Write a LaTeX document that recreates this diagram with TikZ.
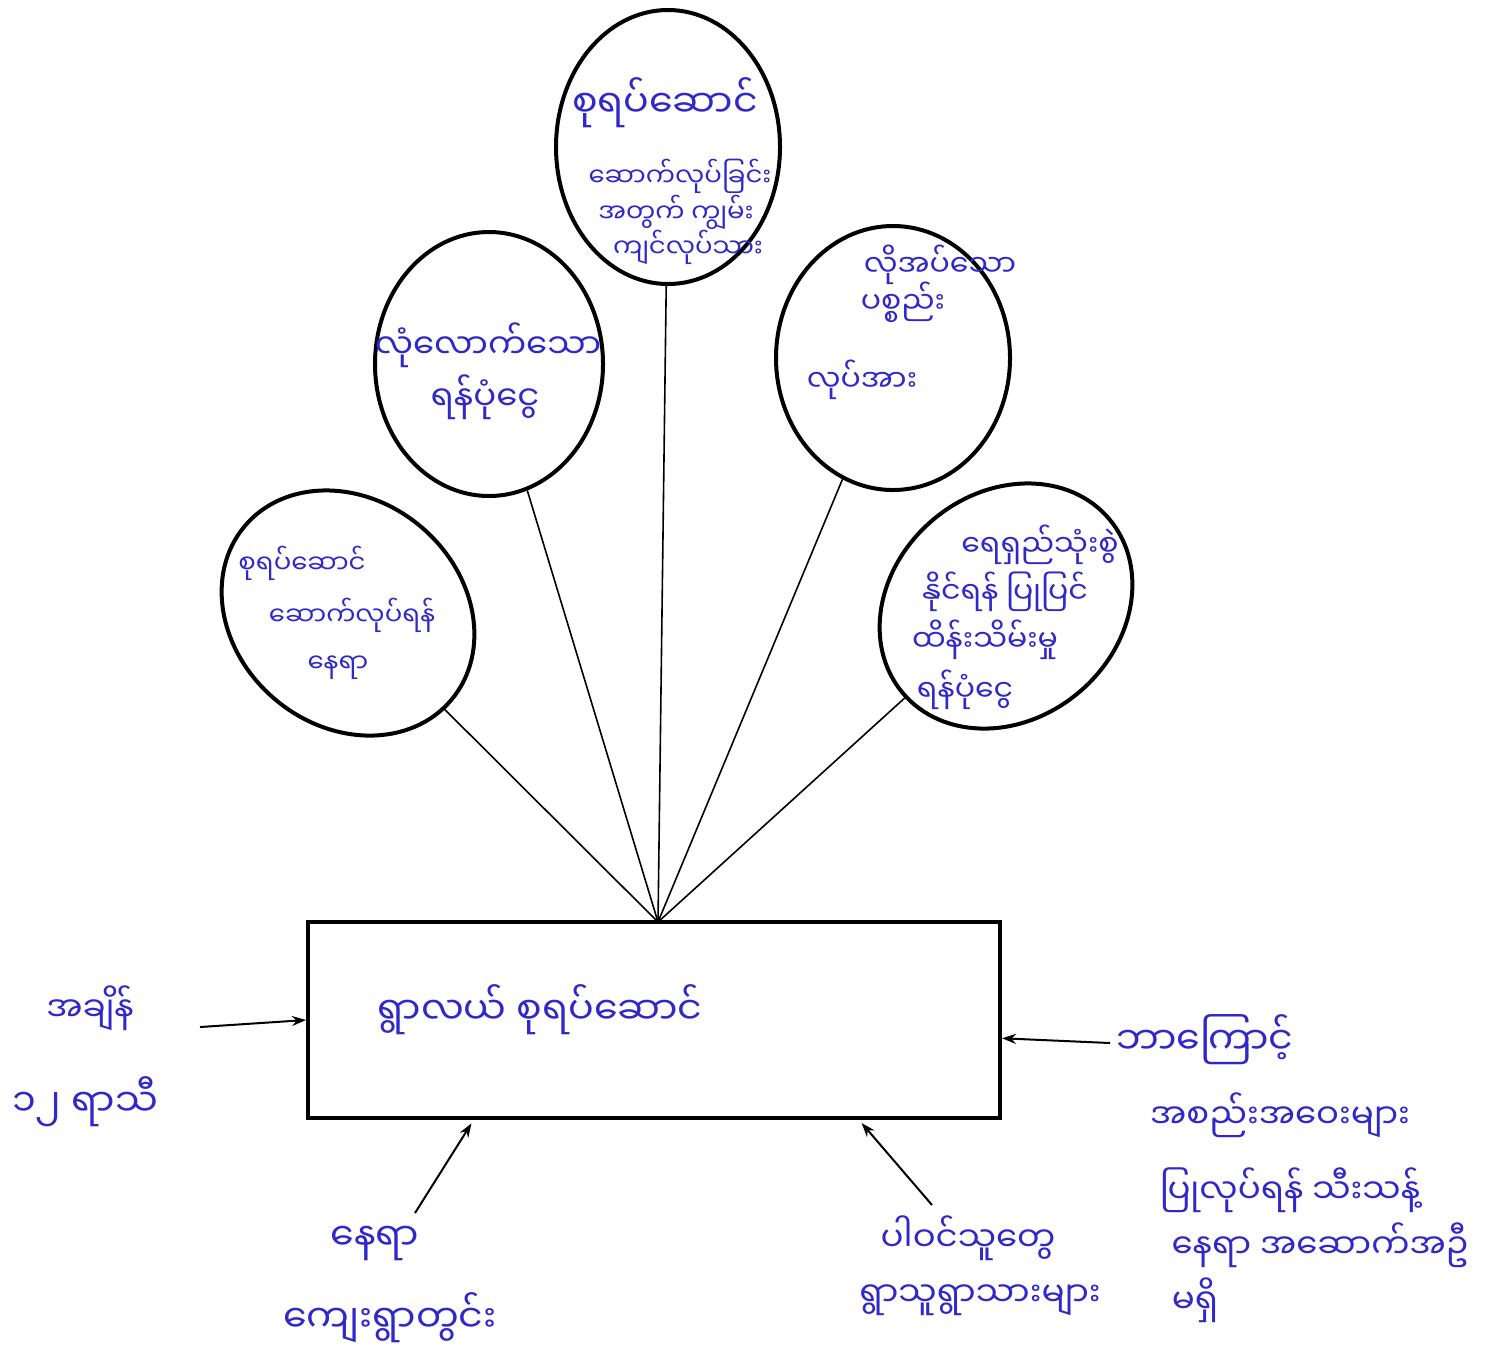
\documentclass[tikz,border=0pt]{standalone}
\usepackage{fontspec}
\newfontfamily\mya[Script=Myanmar]{Noto Sans Myanmar UI}
\usetikzlibrary{shapes.geometric,arrows.meta}
\definecolor{ink}{RGB}{48,40,200}
\begin{document}
\begin{tikzpicture}[x=0.5pt,y=-0.5pt,
  bubble/.style={draw=black,line width=2pt,ellipse,inner sep=0pt},
  hw/.style={text=ink,font=\mya\fontsize{15}{18}\selectfont,inner sep=0pt},
  hwsmall/.style={text=ink,font=\mya\fontsize{13}{15}\selectfont,inner sep=0pt},
  hwmid/.style={text=ink,font=\mya\fontsize{17}{20}\selectfont,inner sep=0pt},
  hwbig/.style={text=ink,font=\mya\fontsize{19}{22}\selectfont,inner sep=0pt},
  spoke/.style={line width=0.8pt},
  inarrow/.style={line width=1pt,-{Stealth[length=7pt,width=5pt]}}]
\useasboundingbox[fill=white] (0,0) rectangle (1491,1357);

% bubbles
\node[bubble,minimum width=112pt,minimum height=137pt] (top) at (668,147) {};
\node[bubble,minimum width=114pt,minimum height=132pt] (lm) at (489,364) {};
\node[bubble,minimum width=117pt,minimum height=132pt] (ru) at (893,358) {};
\node[bubble,minimum width=135pt,minimum height=113pt,rotate=-40] (ll) at (348,613) {};
\node[bubble,minimum width=135pt,minimum height=113pt,rotate=40] (rl) at (1006,606) {};

% main box
\node[draw=black,line width=2pt,minimum width=346pt,minimum height=98pt,inner sep=0pt] (box) at (654,1020) {};
\coordinate (apex) at (658,922);

% spokes
\draw[spoke] (ll) -- (apex);
\draw[spoke] (lm) -- (apex);
\draw[spoke] (top) -- (apex);
\draw[spoke] (ru) -- (apex);
\draw[spoke] (rl) -- (apex);

% input arrows
\coordinate (lstart) at (200,1027);
\coordinate (rstart) at (1110,1043);
\coordinate (blstart) at (415,1213);
\coordinate (brstart) at (932,1205);
\draw[inarrow] (lstart) -- (box.west);
\draw[inarrow] (rstart) -- (box.357.5);
\draw[inarrow,shorten >=2pt] (blstart) -- (box.209);
\draw[inarrow,shorten >=2pt] (brstart) -- (box.334);

% texts in top bubble
\node[hwbig] (t1) at (665,103) {စုရပ်ဆောင်};
\node[hwsmall] (t2) at (680,176) {ဆောက်လုပ်ခြင်း};
\node[hwsmall] (t3) at (676,212) {အတွက် ကျွမ်း};
\node[hwsmall] (t4) at (688,247) {ကျင်လုပ်သား};

% left-mid bubble
\node[hwmid] (m1) at (488,345) {လုံလောက်သော};
\node[hwmid] (m2) at (485,397) {ရန်ပုံငွေ};

% right-upper bubble
\node[hw] (r1) at (940,265) {လိုအပ်သော};
\node[hw] (r2) at (903,302) {ပစ္စည်း};
\node[hw] (r3) at (862,380) {လုပ်အား};

% left-lower bubble
\node[hwsmall] (l1) at (302,563) {စုရပ်ဆောင်};
\node[hwsmall] (l2) at (352,615) {ဆောက်လုပ်ရန်};
\node[hwsmall] (l3) at (338,668) {နေရာ};

% right-lower bubble
\node[hw] (q1) at (1040,545) {ရေရှည်သုံးစွဲ};
\node[hw] (q2) at (1005,592) {နိုင်ရန် ပြုပြင်};
\node[hw] (q3) at (985,640) {ထိန်းသိမ်းမှု};
\node[hw] (q4) at (965,690) {ရန်ပုံငွေ};

% box text
\node[hwbig] (bx) at (540,1010) {ရွာလယ် စုရပ်ဆောင်};

% left text
\node[hwmid] (w1) at (90,1008) {အချိန်};
\node[hwbig] (w2) at (85,1102) {၁၂ ရာသီ};

% right text
\node[hwbig] (e1) at (1205,1040) {ဘာကြောင့်};
\node[hwmid] (e2) at (1280,1115) {အစည်းအဝေးများ};
\node[hwmid] (e3) at (1290,1190) {ပြုလုပ်ရန် သီးသန့်};
\node[hwmid] (e4) at (1320,1245) {နေရာ အဆောက်အဦ};
\node[hwmid] (e5) at (1195,1300) {မရှိ};

% bottom-left text
\node[hwbig] (s1) at (375,1243) {နေရာ};
\node[hwbig] (s2) at (390,1318) {ကျေးရွာတွင်း};

% bottom-mid text
\node[hwmid] (p1) at (968,1238) {ပါဝင်သူတွေ};
\node[hwmid] (p2) at (980,1300) {ရွာသူရွာသားများ};
\end{tikzpicture}
\end{document}
